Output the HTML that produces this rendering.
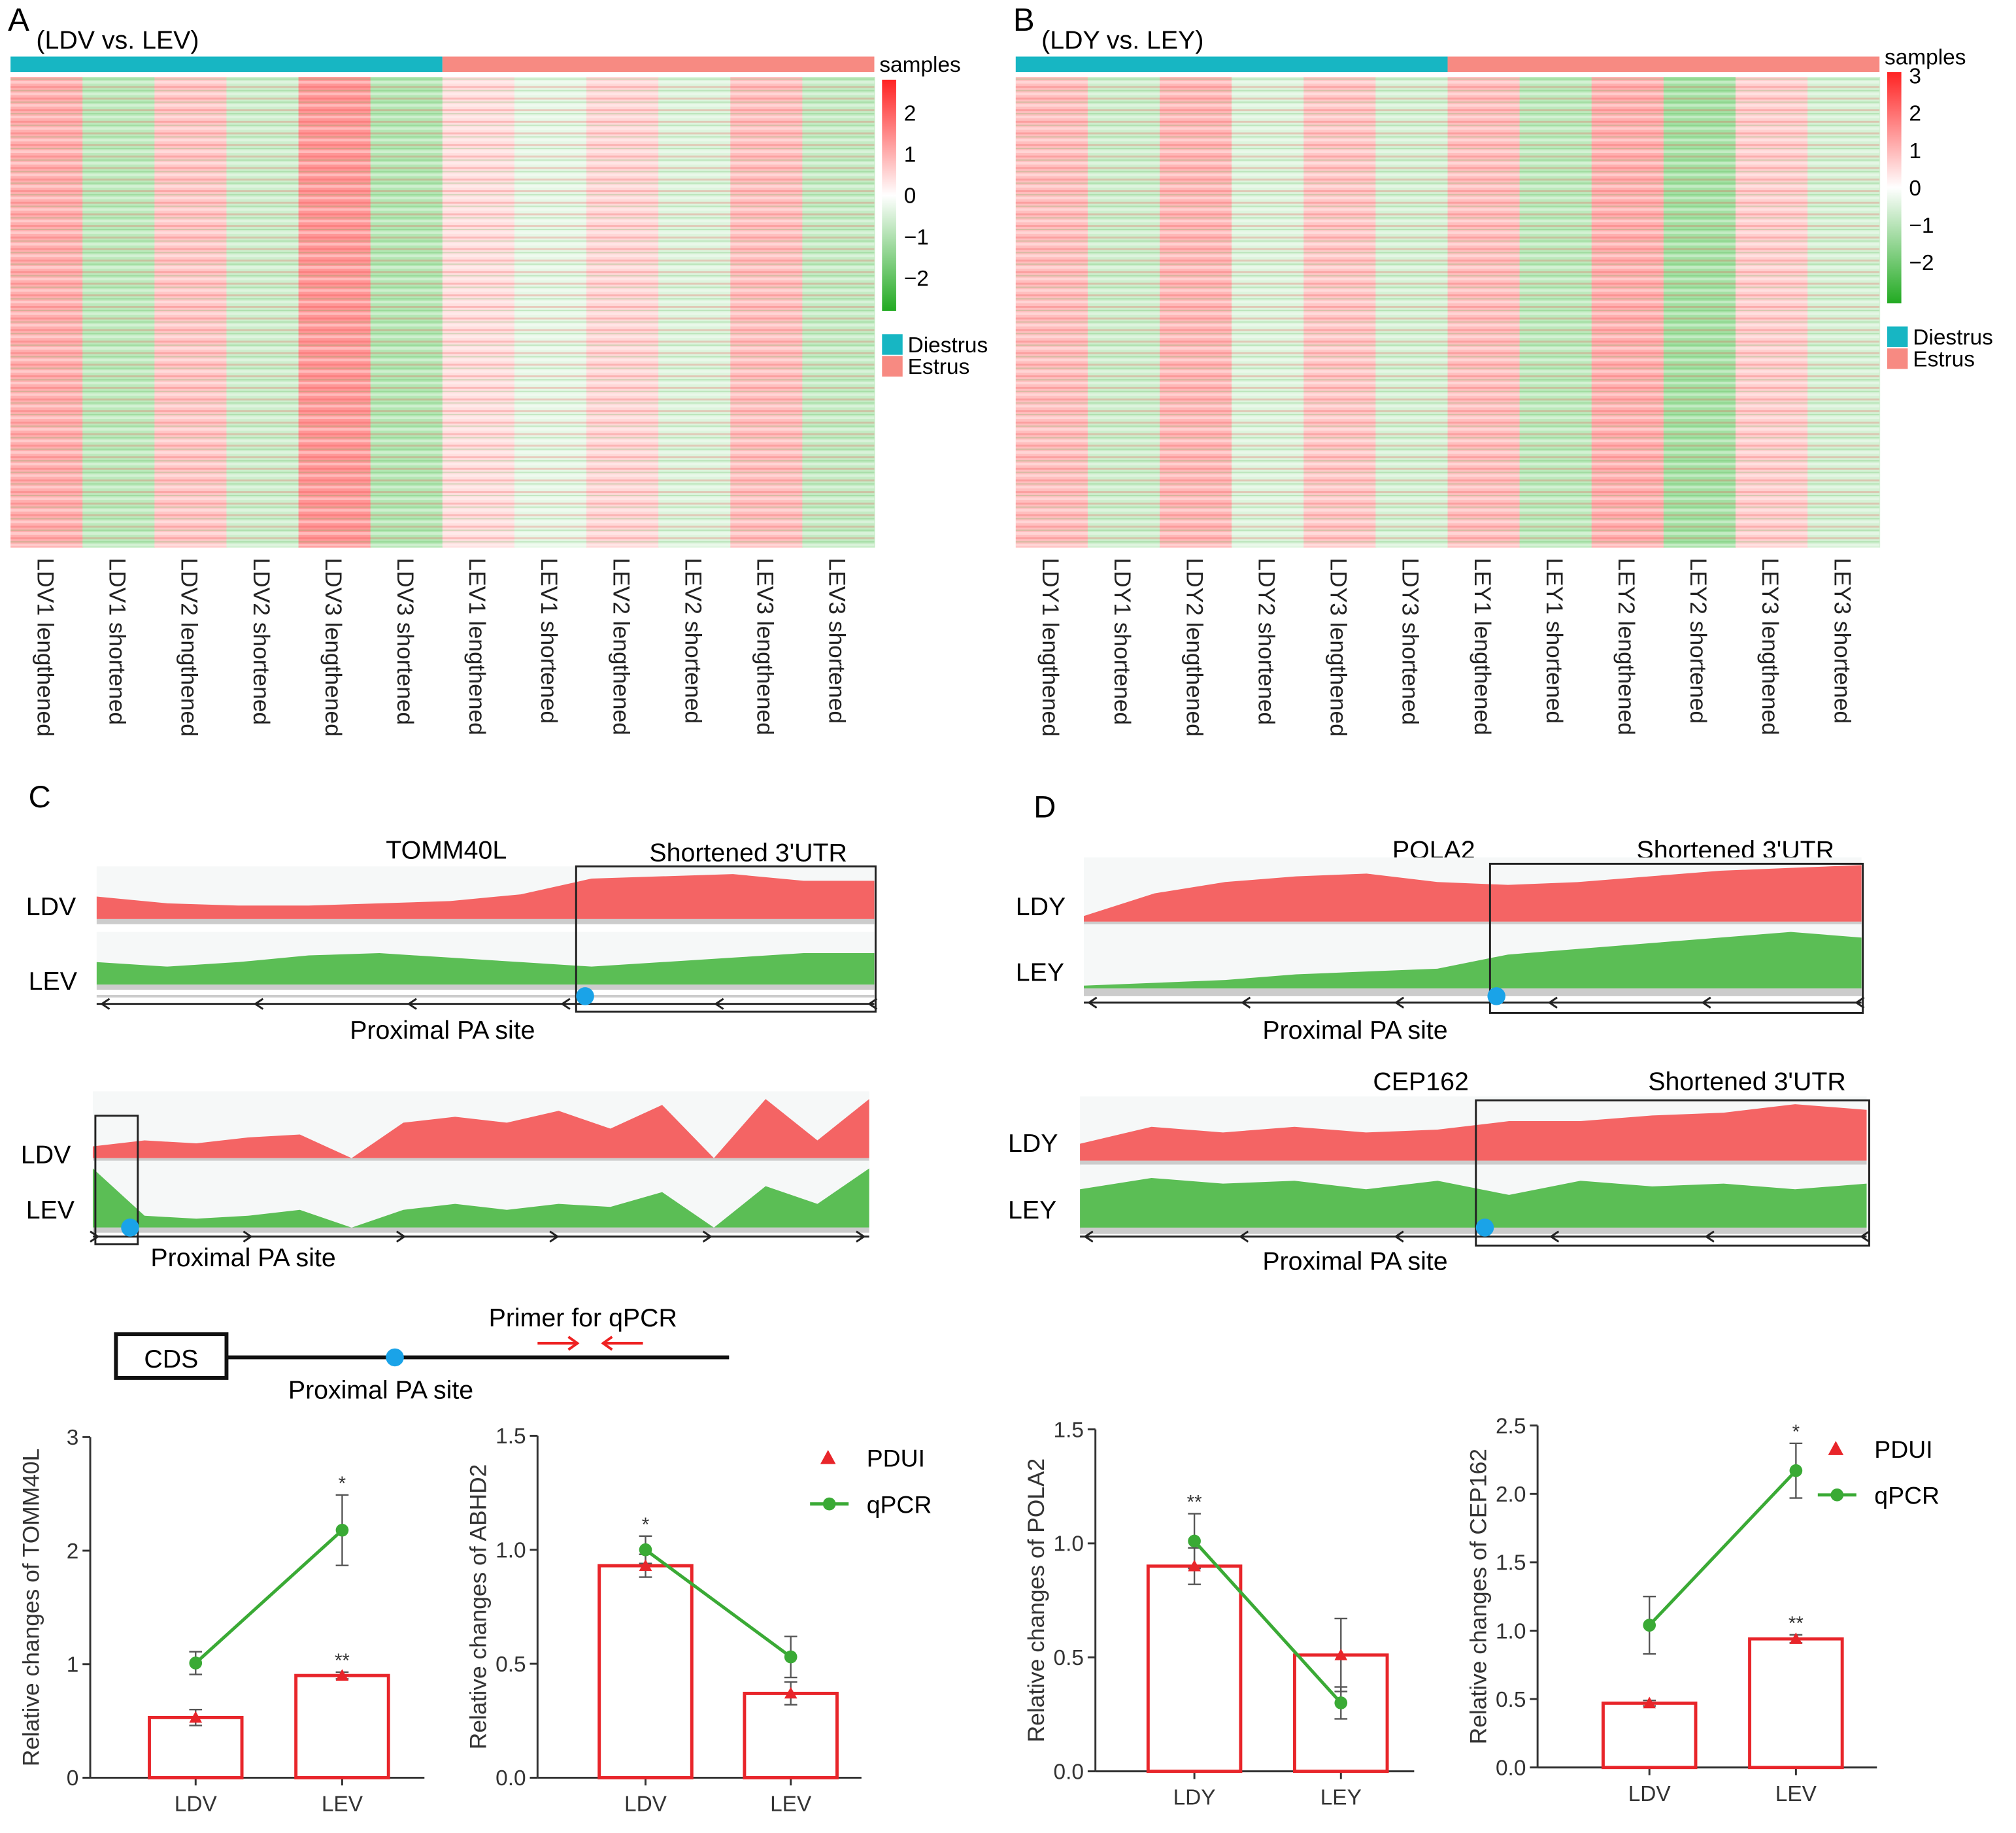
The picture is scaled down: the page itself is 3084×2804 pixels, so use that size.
<!DOCTYPE html>
<html><head><meta charset="utf-8">
<style>
html,body{margin:0;padding:0;background:#fff;}
svg{display:block;font-family:"Liberation Sans",Arial,sans-serif;}
</style></head>
<body>
<svg id="fig" width="3084" height="2804" viewBox="0 0 1568 1426" xmlns="http://www.w3.org/2000/svg">
<defs>
<pattern id="stripes" width="8" height="9" patternUnits="userSpaceOnUse">
<rect x="0" y="0" width="8" height="2" fill="#fff" opacity="0.35"/>
<rect x="0" y="4" width="8" height="1.5" fill="#e33" opacity="0.22"/>
<rect x="0" y="7" width="8" height="1" fill="#3a3" opacity="0.2"/>
</pattern>
<linearGradient id="cbar" x1="0" y1="0" x2="0" y2="1">
<stop offset="0" stop-color="#f22"/><stop offset="0.5" stop-color="#fff"/><stop offset="1" stop-color="#2a2"/>
</linearGradient>
</defs>
<g id="root"></g>
</svg>
<script>
const NS="http://www.w3.org/2000/svg";
const root=document.getElementById('root');
function mk(tag,attrs,parent,txt){const e=document.createElementNS(NS,tag);for(const k in attrs)e.setAttribute(k,attrs[k]);if(txt!==undefined)e.textContent=txt;(parent||root).appendChild(e);return e;}

// ===== Heatmap data =====
const colsA=["LDV1 lengthened","LDV1 shortened","LDV2 lengthened","LDV2 shortened","LDV3 lengthened","LDV3 shortened","LEV1 lengthened","LEV1 shortened","LEV2 lengthened","LEV2 shortened","LEV3 lengthened","LEV3 shortened"];
const valsA=[1.0,-0.8,0.7,-0.6,1.3,-0.9,0.4,-0.3,0.5,-0.4,0.8,-0.7];
const colsB=["LDY1 lengthened","LDY1 shortened","LDY2 lengthened","LDY2 shortened","LDY3 lengthened","LDY3 shortened","LEY1 lengthened","LEY1 shortened","LEY2 lengthened","LEY2 shortened","LEY3 lengthened","LEY3 shortened"];
const valsB=[0.8,-0.6,0.9,-0.4,0.7,-0.5,0.8,-0.8,1.0,-1.1,0.6,-0.5];
const ticksA=[2,1,0,-1,-2];
const ticksB=[3,2,1,0,-1,-2];

function colorOf(v){const t=Math.max(-1,Math.min(1,v/2.5));
 if(t>=0){return `rgb(255,${Math.round(255-200*t)},${Math.round(255-200*t)})`;}
 const s=-t;return `rgb(${Math.round(255-210*s)},${Math.round(255-70*s)},${Math.round(255-210*s)})`;}

function heatmap(g,x0,y0,w,h,cols,vals,letter,title,cbx,cby0,cby1,ticks,tmax,legY,prefix){
 mk('text',{x:x0-2,y:y0-36,'font-size':25,},g,letter);
 mk('text',{x:x0+20,y:y0-22,'font-size':20,},g,title);
 const cw=w/cols.length;
 mk('rect',{x:x0,y:y0-16,width:w/2,height:12,fill:'#17b6c3',},g);
 mk('rect',{x:x0+w/2,y:y0-16,width:w/2,height:12,fill:'#f78a82',},g);
 cols.forEach((c,i)=>{
  const r=mk('rect',{x:x0+i*cw,y:y0,width:cw+0.5,height:h,fill:colorOf(vals[i])},g);
  
  
  const t=mk('text',{transform:`translate(${x0+i*cw+cw/2-7},${y0+h+8}) rotate(90)`,'font-size':18,fill:'#222'},g,c);
  
  
 });
 mk('rect',{x:x0,y:y0,width:w,height:h,fill:'url(#stripes)'},g);
 mk('text',{x:cbx-2,y:cby0-6,'font-size':17,},g,'samples');
 mk('rect',{x:cbx,y:cby0,width:11,height:cby1-cby0,fill:'url(#cbar)',},g);
 const mid=(cby0+cby1)/2;
 const ys=v=>mid-v/tmax*(cby1-cby0)/2;
 ticks.forEach(v=>{const t=mk('text',{x:cbx+17,y:ys(v)+6,'font-size':17},g,v<0?'\u2212'+(-v):String(v));
  });
 mk('rect',{x:cbx,y:legY,width:16,height:16,fill:'#17b6c3'},g);
 mk('text',{x:cbx+20,y:legY+14,'font-size':17,},g,'Diestrus');
 mk('rect',{x:cbx,y:legY+17,width:16,height:16,fill:'#f78a82'},g);
 mk('text',{x:cbx+20,y:legY+31,'font-size':17,},g,'Estrus');
}
const gA=mk('g',{});
heatmap(gA,8,60,672,366,colsA,valsA,'A','(LDV vs. LEV)',686,62,242,ticksA,2.8,260,'heatmap-a');
const gB=mk('g',{});
heatmap(gB,790,60,672,366,colsB,valsB,'B','(LDY vs. LEY)',1468,56,236,ticksB,3.1,254,'heatmap-b');

// ===== Coverage tracks =====
const covTomRed=[0.5,0.35,0.3,0.3,0.35,0.4,0.55,0.9,0.95,1.0,0.85,0.85];
const covTomGreen=[0.5,0.4,0.5,0.65,0.7,0.6,0.5,0.4,0.5,0.6,0.7,0.7];
const covAbhRed=[0.2,0.3,0.25,0.35,0.4,0.0,0.6,0.7,0.6,0.8,0.5,0.9,0.0,1.0,0.3,1.0];
const covAbhGreen=[1.0,0.2,0.15,0.2,0.3,0.0,0.3,0.4,0.3,0.4,0.35,0.6,0.0,0.7,0.4,1.0];
const covPolRed=[0.1,0.5,0.7,0.8,0.85,0.7,0.65,0.7,0.8,0.9,0.95,1.0];
const covPolGreen=[0.05,0.1,0.15,0.25,0.3,0.35,0.6,0.7,0.8,0.9,1.0,0.9];
const covCepRed=[0.3,0.6,0.5,0.6,0.5,0.55,0.7,0.7,0.8,0.85,1.0,0.9];
const covCepGreen=[0.7,0.9,0.8,0.85,0.7,0.85,0.6,0.85,0.75,0.8,0.7,0.8];

function track(g,x0,x1,base,hmax,vals,color,name){
 let d=`M${x0},${base}`;vals.forEach((v,i)=>{d+=` L${x0+i*(x1-x0)/(vals.length-1)},${base-v*hmax}`;});d+=` L${x1},${base} Z`;
 mk('rect',{x:x0,y:base-hmax-6,width:x1-x0,height:hmax+6,fill:'#f6f8f8'},g);
 const p=mk('path',{d:d,fill:color},g);
 
 mk('rect',{x:x0,y:base,width:x1-x0,height:4,fill:'#ccc'},g);
}
function arrows(g,x0,x1,y,dir,n){
 mk('line',{x1:x0,y1:y,x2:x1,y2:y,stroke:'#222','stroke-width':1.5},g);
 mk('line',{x1:x0,y1:y-6,x2:x1,y2:y-6,stroke:'#ccc','stroke-width':2},g);
 for(let i=0;i<n;i++){const x=x0+4+i*(x1-x0-8)/(n-1);
  const pts=dir<0?`${x+6},${y-4} ${x},${y} ${x+6},${y+4}`:`${x-6},${y-4} ${x},${y} ${x-6},${y+4}`;
  mk('polyline',{points:pts,fill:'none',stroke:'#222','stroke-width':1.5},g);}
}
function txt(g,x,y,s,t,name,anchor){const e=mk('text',{x:x,y:y,'font-size':s,'text-anchor':anchor||'start'},g,t);return e;}

const gC=mk('g',{});
txt(gC,22,628,24,'C','panel-c-letter');
txt(gC,300,668,20,'TOMM40L','tomm40l-gene-label');
txt(gC,505,670,20,"Shortened 3'UTR",'tomm40l-utr-label');
txt(gC,20,712,20,'LDV','tomm40l-ldv-label');txt(gC,22,770,20,'LEV','tomm40l-lev-label');
track(gC,75,680,715,35,covTomRed,'#f46464','tomm40l-ldv-track');
track(gC,75,680,766,35,covTomGreen,'#5bbe55','tomm40l-lev-track');
arrows(gC,75,680,781,-1,6);
mk('rect',{x:448,y:674,width:233,height:113,fill:'none',stroke:'#222','stroke-width':1.5},gC);
mk('circle',{cx:455,cy:775,r:7,fill:'#1aa3e8',},gC);
txt(gC,272,808,20,'Proximal PA site','tomm40l-pa-label');

txt(gC,72,865,20,"Shortened 3'UTR",'abhd2-utr-label');
txt(gC,314,863,20,'ABHD2','abhd2-gene-label');
txt(gC,16,905,20,'LDV','abhd2-ldv-label');txt(gC,20,948,20,'LEV','abhd2-lev-label');
track(gC,72,676,901,46,covAbhRed,'#f46464','abhd2-ldv-track');
track(gC,72,676,955,46,covAbhGreen,'#5bbe55','abhd2-lev-track');
arrows(gC,72,676,962,1,6);
mk('rect',{x:74,y:868,width:33,height:100,fill:'none',stroke:'#222','stroke-width':1.5},gC);
mk('circle',{cx:101,cy:955,r:7,fill:'#1aa3e8',},gC);
txt(gC,117,985,20,'Proximal PA site','abhd2-pa-label');

const gD=mk('g',{});
txt(gD,804,636,24,'D','panel-d-letter');
txt(gD,1083,668,20,'POLA2','pola2-gene-label');
txt(gD,1273,668,20,"Shortened 3'UTR",'pola2-utr-label');
txt(gD,790,712,20,'LDY','pola2-ldy-label');txt(gD,790,763,20,'LEY','pola2-ley-label');
track(gD,843,1448,717,44,covPolRed,'#f46464','pola2-ldy-track');
track(gD,843,1448,769,44,covPolGreen,'#5bbe55','pola2-ley-track');
arrows(gD,843,1448,780,-1,6);
mk('rect',{x:1159,y:672,width:290,height:116,fill:'none',stroke:'#222','stroke-width':1.5},gD);
mk('circle',{cx:1164,cy:775,r:7,fill:'#1aa3e8',},gD);
txt(gD,982,808,20,'Proximal PA site','pola2-pa-label');

txt(gD,1068,848,20,'CEP162','cep162-gene-label');
txt(gD,1282,848,20,"Shortened 3'UTR",'cep162-utr-label');
txt(gD,784,896,20,'LDY','cep162-ldy-label');txt(gD,784,948,20,'LEY','cep162-ley-label');
track(gD,840,1452,903,44,covCepRed,'#f46464','cep162-ldy-track');
track(gD,840,1452,956,44,covCepGreen,'#5bbe55','cep162-ley-track');
arrows(gD,840,1452,962,-1,6);
mk('rect',{x:1148,y:856,width:306,height:113,fill:'none',stroke:'#222','stroke-width':1.5},gD);
mk('circle',{cx:1155,cy:955,r:7,fill:'#1aa3e8',},gD);
txt(gD,982,988,20,'Proximal PA site','cep162-pa-label');

// schematic
const gS=mk('g',{});
mk('rect',{x:90,y:1038,width:86,height:34,fill:'#fff',stroke:'#111','stroke-width':3,},gS);
txt(gS,133,1064,20,'CDS','cds-label','middle');
mk('line',{x1:176,y1:1056,x2:567,y2:1056,stroke:'#111','stroke-width':3},gS);
mk('circle',{cx:307,cy:1056,r:7,fill:'#1aa3e8'},gS);
txt(gS,224,1088,20,'Proximal PA site','schematic-pa-label');
txt(gS,380,1032,20,'Primer for qPCR','primer-label');
mk('line',{x1:418,y1:1045,x2:448,y2:1045,stroke:'#e22','stroke-width':2},gS);
mk('polyline',{points:'442,1040 449,1045 442,1050',fill:'none',stroke:'#e22','stroke-width':2},gS);
mk('line',{x1:470,y1:1045,x2:500,y2:1045,stroke:'#e22','stroke-width':2},gS);
mk('polyline',{points:'476,1040 469,1045 476,1050',fill:'none',stroke:'#e22','stroke-width':2},gS);

// ===== Bar charts =====
const chart1Cats=["LDV","LEV"],chart1Pdui=[0.53,0.90],chart1PduiErr=[0.07,0.03],chart1Qpcr=[1.01,2.18],chart1QpcrErr=[0.1,0.31],chart1Ticks=[0,1,2,3];
const chart2Cats=["LDV","LEV"],chart2Pdui=[0.93,0.37],chart2PduiErr=[0.05,0.05],chart2Qpcr=[1.0,0.53],chart2QpcrErr=[0.06,0.09],chart2Ticks=[0.0,0.5,1.0,1.5];
const chart3Cats=["LDY","LEY"],chart3Pdui=[0.90,0.51],chart3PduiErr=[0.08,0.16],chart3Qpcr=[1.01,0.30],chart3QpcrErr=[0.12,0.07],chart3Ticks=[0.0,0.5,1.0,1.5];
const chart4Cats=["LDV","LEV"],chart4Pdui=[0.47,0.94],chart4PduiErr=[0.02,0.03],chart4Qpcr=[1.04,2.17],chart4QpcrErr=[0.21,0.2],chart4Ticks=[0.0,0.5,1.0,1.5,2.0,2.5];

function barChart(name,ax,yTop,yBot,xEnd,ticks,cats,centers,pdui,pduiErr,qpcr,qpcrErr,ytitle,dec,stars){
 const g=mk('g',{});
 const tmax=ticks[ticks.length-1];
 const ys=v=>yBot-v/tmax*(yBot-yTop);
 mk('line',{x1:ax,y1:yTop,x2:ax,y2:yBot,stroke:'#333','stroke-width':1.5},g);
 mk('line',{x1:ax,y1:yBot,x2:xEnd,y2:yBot,stroke:'#333','stroke-width':1.5},g);
 ticks.forEach(v=>{mk('line',{x1:ax-6,y1:ys(v),x2:ax,y2:ys(v),stroke:'#333','stroke-width':1.5},g);
  const t=mk('text',{x:ax-9,y:ys(v)+6,'font-size':17,'text-anchor':'end',fill:'#333'},g,v.toFixed(dec));
  });
 const yt=mk('text',{transform:`translate(${ax-40},${(yTop+yBot)/2}) rotate(-90)`,'font-size':18,'text-anchor':'middle',fill:'#333'},g,ytitle);
 
 cats.forEach((c,i)=>{const cx=centers[i];
  mk('line',{x1:cx,y1:yBot,x2:cx,y2:yBot+6,stroke:'#333','stroke-width':1.5},g);
  const t=mk('text',{x:cx,y:yBot+26,'font-size':17,'text-anchor':'middle',fill:'#333'},g,c);
  
  const b=mk('rect',{x:cx-36,y:ys(pdui[i]),width:72,height:yBot-ys(pdui[i]),fill:'#fff',stroke:'#e8252a','stroke-width':2.5},g);
  
  [[pdui,pduiErr],[qpcr,qpcrErr]].forEach(([v,e])=>{
   mk('line',{x1:cx,y1:ys(v[i]+e[i]),x2:cx,y2:ys(v[i]-e[i]),stroke:'#555','stroke-width':1.2},g);
   mk('line',{x1:cx-5,y1:ys(v[i]+e[i]),x2:cx+5,y2:ys(v[i]+e[i]),stroke:'#555','stroke-width':1.2},g);
   mk('line',{x1:cx-5,y1:ys(v[i]-e[i]),x2:cx+5,y2:ys(v[i]-e[i]),stroke:'#555','stroke-width':1.2},g);
  });
  const y=ys(pdui[i]);
  const tri=mk('polygon',{points:`${cx-5},${y+4} ${cx+5},${y+4} ${cx},${y-5}`,fill:'#e8252a'},g);
  
 });
 const l=mk('line',{x1:centers[0],y1:ys(qpcr[0]),x2:centers[1],y2:ys(qpcr[1]),stroke:'#3aaa35','stroke-width':2.5},g);
 
 cats.forEach((c,i)=>{const p=mk('circle',{cx:centers[i],cy:ys(qpcr[i]),r:5,fill:'#3aaa35'},g);
  });
 stars.forEach(s=>{const t=mk('text',{x:centers[s.i],y:ys(s.v)-4,'font-size':15,'text-anchor':'middle',fill:'#333'},g,s.t);
  });
 return g;
}
barChart('chart-tomm40l',70,1118,1383,330,chart1Ticks,chart1Cats,[152,266],chart1Pdui,chart1PduiErr,chart1Qpcr,chart1QpcrErr,'Relative changes of TOMM40L',0,[{i:1,v:2.49,t:'*'},{i:1,v:0.93,t:'**'}]);
barChart('chart-abhd2',418,1117,1383,670,chart2Ticks,chart2Cats,[502,615],chart2Pdui,chart2PduiErr,chart2Qpcr,chart2QpcrErr,'Relative changes of ABHD2',1,[{i:0,v:1.06,t:'*'}]);
barChart('chart-pola2',852,1112,1378,1100,chart3Ticks,chart3Cats,[929,1043],chart3Pdui,chart3PduiErr,chart3Qpcr,chart3QpcrErr,'Relative changes of POLA2',1,[{i:0,v:1.13,t:'**'}]);
barChart('chart-cep162',1196,1109,1375,1460,chart4Ticks,chart4Cats,[1283,1397],chart4Pdui,chart4PduiErr,chart4Qpcr,chart4QpcrErr,'Relative changes of CEP162',1,[{i:1,v:2.37,t:'*'},{i:1,v:0.97,t:'**'}]);

function legend(x,y,name){const g=mk('g',{});
 mk('polygon',{points:`${x+8},${y-6} ${x+2},${y+5} ${x+14},${y+5}`,fill:'#e8252a'},g);
 txt(g,x+38,y+7,19,'PDUI',name+'-pdui');
 mk('line',{x1:x-6,y1:y+36,x2:x+24,y2:y+36,stroke:'#3aaa35','stroke-width':2.5},g);
 mk('circle',{cx:x+9,cy:y+36,r:5,fill:'#3aaa35'},g);
 txt(g,x+38,y+43,19,'qPCR',name+'-qpcr');}
legend(636,1134,'legend-c');
legend(1420,1127,'legend-d');
</script>
</body></html>
